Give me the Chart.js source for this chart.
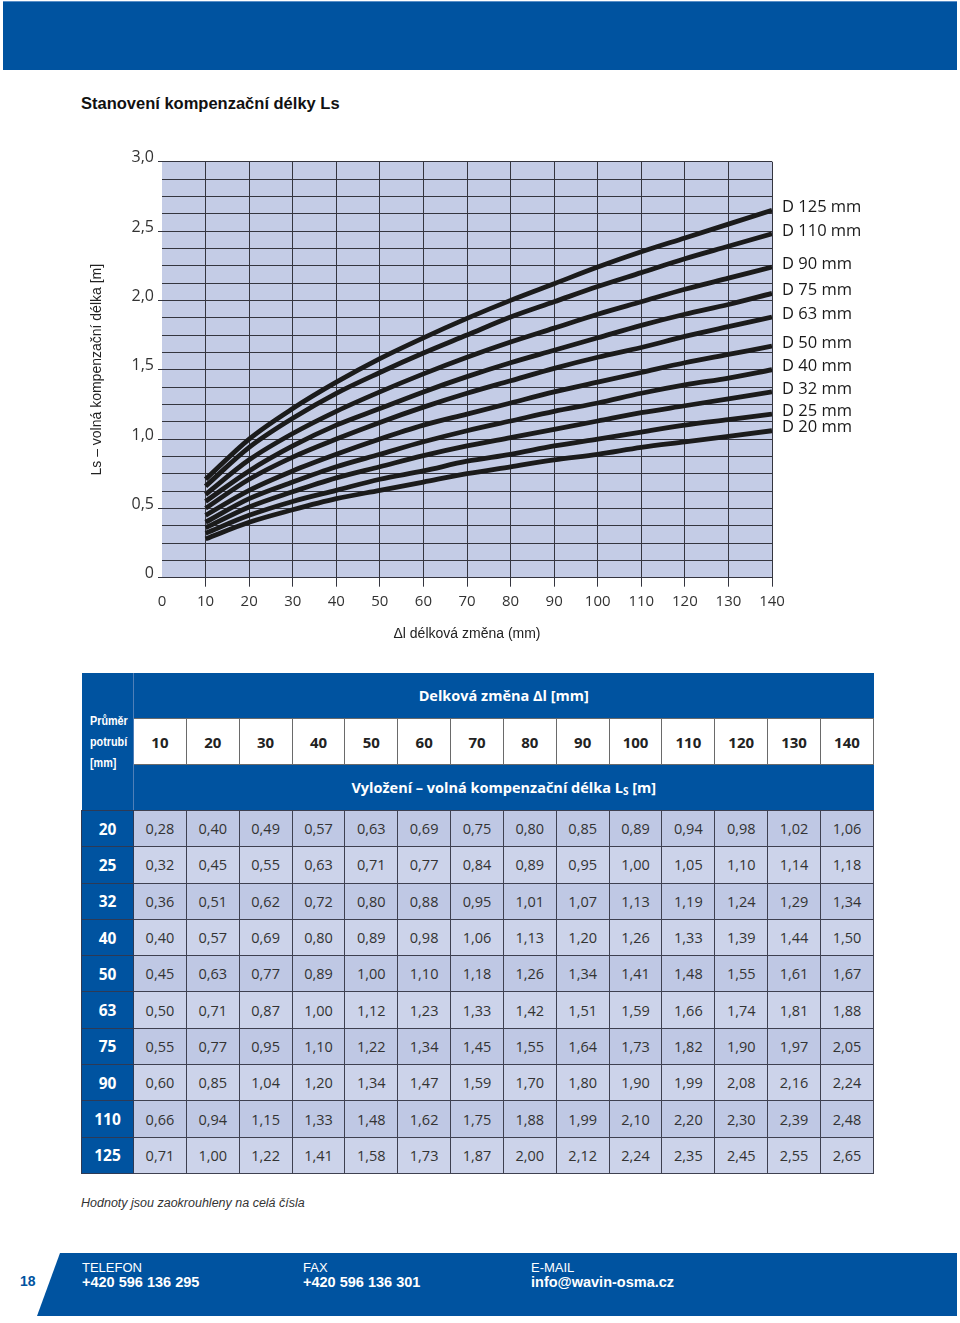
<!DOCTYPE html>
<html><head><meta charset="utf-8">
<script src="https://cdn.jsdelivr.net/npm/chart.js@4.4.1/dist/chart.umd.min.js"></script>
<style>
html,body{margin:0;padding:0;background:#fff;}
body{width:960px;height:1323px;position:relative;overflow:hidden;font-family:"Liberation Sans",Arial,sans-serif;}
#topbar{position:absolute;left:3px;top:1px;width:954px;height:69px;background:#0053a0;border-top:1px solid #5a8fc8;box-sizing:border-box;}
#title{position:absolute;left:81px;top:94px;font-weight:bold;font-size:16.5px;color:#111;}
#chartWrap{position:absolute;left:0;top:130px;width:960px;height:530px;}
#tbl{position:absolute;left:81px;top:673px;border-collapse:collapse;table-layout:fixed;width:793px;font-family:"Open Sans",sans-serif;}
#tbl td{padding:0;text-align:center;vertical-align:middle;}
#tbl .blue{background:#0053a0;color:#fff;font-weight:bold;}
#tbl .h1{height:45px;font-size:14.5px;}
#tbl .h3{height:45px;font-size:14.5px;}
#tbl .corner{text-align:left;padding-left:8px;border-bottom:1px solid #2e3a55;border-right:1px solid #4f7fb8;overflow:hidden;}
#tbl .corner div{font-family:"Liberation Sans",Arial,sans-serif;font-size:13.5px;line-height:21px;transform:scaleX(0.8);transform-origin:left center;white-space:nowrap;}
#tbl .wh{background:#fff;color:#222;font-weight:bold;font-size:15px;height:45px;border:1px solid #6a6a6a;}
#tbl .rowh{background:#0053a0;color:#fff;font-weight:bold;font-size:15.5px;border:1px solid #2e3a55;}
#tbl .val{font-size:14.5px;color:#333;border:1px solid #3e4050;height:35.3px;}
#tbl tr.odd .val{background:#bfc8e4;}
#tbl tr.even .val{background:#ccd3ea;}
#note{position:absolute;left:81px;top:1196px;font-style:italic;font-size:12.5px;color:#333;}
#footer{position:absolute;left:37px;top:1253px;width:920px;height:63px;background:#0053a0;clip-path:polygon(23px 0,920px 0,920px 63px,0 63px);}
.fl{position:absolute;color:#fff;font-size:13px;line-height:15px;}
.fl b{font-size:14.5px;}
#pnum{position:absolute;left:20px;top:1273px;font-weight:bold;font-size:14px;color:#0053a0;}
</style></head>
<body>
<div id="topbar"></div>
<div id="title">Stanovení kompenzační délky Ls</div>
<div id="chartWrap"><canvas id="c" width="960" height="530"></canvas></div>
<table id="tbl"></table>
<div id="note">Hodnoty jsou zaokrouhleny na celá čísla</div>
<div id="footer"></div>
<div id="pnum">18</div>
<div class="fl" style="left:82px;top:1260px;">TELEFON<br><b>+420 596 136 295</b></div>
<div class="fl" style="left:303px;top:1260px;">FAX<br><b>+420 596 136 301</b></div>
<div class="fl" style="left:531px;top:1260px;">E-MAIL<br><b>info@wavin-osma.cz</b></div>
<script>
// ---- data ----
const dl = [10,20,30,40,50,60,70,80,90,100,110,120,130,140];
const diameters = [20,25,32,40,50,63,75,90,110,125];
const ls20  = [0.28,0.40,0.49,0.57,0.63,0.69,0.75,0.80,0.85,0.89,0.94,0.98,1.02,1.06];
const ls25  = [0.32,0.45,0.55,0.63,0.71,0.77,0.84,0.89,0.95,1.00,1.05,1.10,1.14,1.18];
const ls32  = [0.36,0.51,0.62,0.72,0.80,0.88,0.95,1.01,1.07,1.13,1.19,1.24,1.29,1.34];
const ls40  = [0.40,0.57,0.69,0.80,0.89,0.98,1.06,1.13,1.20,1.26,1.33,1.39,1.44,1.50];
const ls50  = [0.45,0.63,0.77,0.89,1.00,1.10,1.18,1.26,1.34,1.41,1.48,1.55,1.61,1.67];
const ls63  = [0.50,0.71,0.87,1.00,1.12,1.23,1.33,1.42,1.51,1.59,1.66,1.74,1.81,1.88];
const ls75  = [0.55,0.77,0.95,1.10,1.22,1.34,1.45,1.55,1.64,1.73,1.82,1.90,1.97,2.05];
const ls90  = [0.60,0.85,1.04,1.20,1.34,1.47,1.59,1.70,1.80,1.90,1.99,2.08,2.16,2.24];
const ls110 = [0.66,0.94,1.15,1.33,1.48,1.62,1.75,1.88,1.99,2.10,2.20,2.30,2.39,2.48];
const ls125 = [0.71,1.00,1.22,1.41,1.58,1.73,1.87,2.00,2.12,2.24,2.35,2.45,2.55,2.65];
const seriesValues = [ls20,ls25,ls32,ls40,ls50,ls63,ls75,ls90,ls110,ls125];
const xTickLabels = ['0','10','20','30','40','50','60','70','80','90','100','110','120','130','140'];
const yTickLabels = ['0','0,5','1,0','1,5','2,0','2,5','3,0'];

const fmt = v => v.toFixed(2).replace('.', ',');

// ---- table ----
(function(){
  const t = document.getElementById('tbl');
  let h = '<colgroup><col style="width:52px">' + dl.map(()=>'<col>').join('') + '</colgroup>';
  h += '<tr><td class="blue corner" rowspan="3"><div>Průměr<br>potrubí<br>[mm]</div></td><td class="blue h1" colspan="'+dl.length+'">Delková změna Δl [mm]</td></tr>';
  h += '<tr>' + dl.map(d=>'<td class="wh">'+d+'</td>').join('') + '</tr>';
  h += '<tr><td class="blue h3" colspan="'+dl.length+'">Vyložení – volná kompenzační délka L<span style="font-size:10px;vertical-align:-2px">S</span> [m]</td></tr>';
  diameters.forEach((d,i)=>{
    h += '<tr class="'+(i%2===0?'odd':'even')+'"><td class="rowh">'+d+'</td>' + seriesValues[i].map(v=>'<td class="val">'+fmt(v)+'</td>').join('') + '</tr>';
  });
  t.innerHTML = h;
})();

// ---- chart ----
const GRID = '#34353f';
const plotBg = {
  id:'plotBg',
  beforeDraw(chart){
    const {ctx, chartArea:a} = chart;
    ctx.save(); ctx.fillStyle = '#c4cce6';
    ctx.fillRect(a.left, a.top, a.right-a.left, a.bottom-a.top);
    ctx.restore();
  }
};
const endLabels = {
  id:'endLabels',
  afterDatasetsDraw(chart){
    const ctx = chart.ctx, xs = chart.scales.x, ys = chart.scales.y;
    ctx.save();
    ctx.font = '16.5px "Open Sans"'; ctx.fillStyle = '#1a1a1a';
    ctx.textBaseline = 'middle'; ctx.textAlign = 'left';
    chart.data.datasets.forEach(ds=>{
      const last = ds.data[ds.data.length-1];
      ctx.fillText(ds.label, xs.right + 10, ys.getPixelForValue(last.y) - 3);
    });
    ctx.restore();
  }
};

Chart.defaults.font.family = '"Open Sans", sans-serif';
new Chart(document.getElementById('c'), {
  type:'line',
  data:{
    datasets: diameters.map((d,i)=>({
      label:'D ' + d + ' mm',
      data: dl.map((x,j)=>({x:x, y:seriesValues[i][j]})),
      borderColor:'#1b1b1b', borderWidth:4.8, pointRadius:0,
      cubicInterpolationMode:'monotone', fill:false
    }))
  },
  options:{
    responsive:false, animation:false,
    layout:{padding:{left:85, top:31.7, right:188, bottom:13.6}},
    plugins:{legend:{display:false}, tooltip:{enabled:false}},
    scales:{
      x:{
        type:'linear', min:0, max:140,
        afterFit(s){ s.height = 68.7; },
        border:{display:false},
        grid:{
          color:c=> c.tick && c.tick.value===0 ? 'transparent' : GRID,
          tickColor:c=> c.tick && c.tick.value===0 ? 'transparent' : GRID,
          tickLength:9, lineWidth:1
        },
        ticks:{stepSize:10, autoSkip:false, maxRotation:0, padding:6,
          color:'#333', font:{size:15},
          callback:(v)=> xTickLabels[Math.round(v/10)] },
        title:{display:true, text:'Δl délková změna (mm)', color:'#222',
          font:{family:'"Liberation Sans", Arial', size:14}}
      },
      y:{
        type:'linear', min:0, max:3,
        afterFit(s){ s.width = 77; },
        border:{display:false},
        grid:{
          color:GRID, lineWidth:1, tickLength:4,
          tickColor:c=> (c.tick && Math.abs(c.tick.value*2 - Math.round(c.tick.value*2))<1e-9) ? GRID : 'transparent'
        },
        ticks:{stepSize:0.125, autoSkip:false, padding:4, labelOffset:-4,
          color:'#333', font:{size:16},
          callback:(v)=>{ const k=v*2; return Math.abs(k-Math.round(k))<1e-9 ? yTickLabels[Math.round(k)] : ''; } },
        title:{display:true, text:'Ls – volná kompenzační délka [m]', color:'#222',
          font:{family:'"Liberation Sans", Arial', size:14}}
      }
    }
  },
  plugins:[plotBg, endLabels]
});
</script>
</body></html>
